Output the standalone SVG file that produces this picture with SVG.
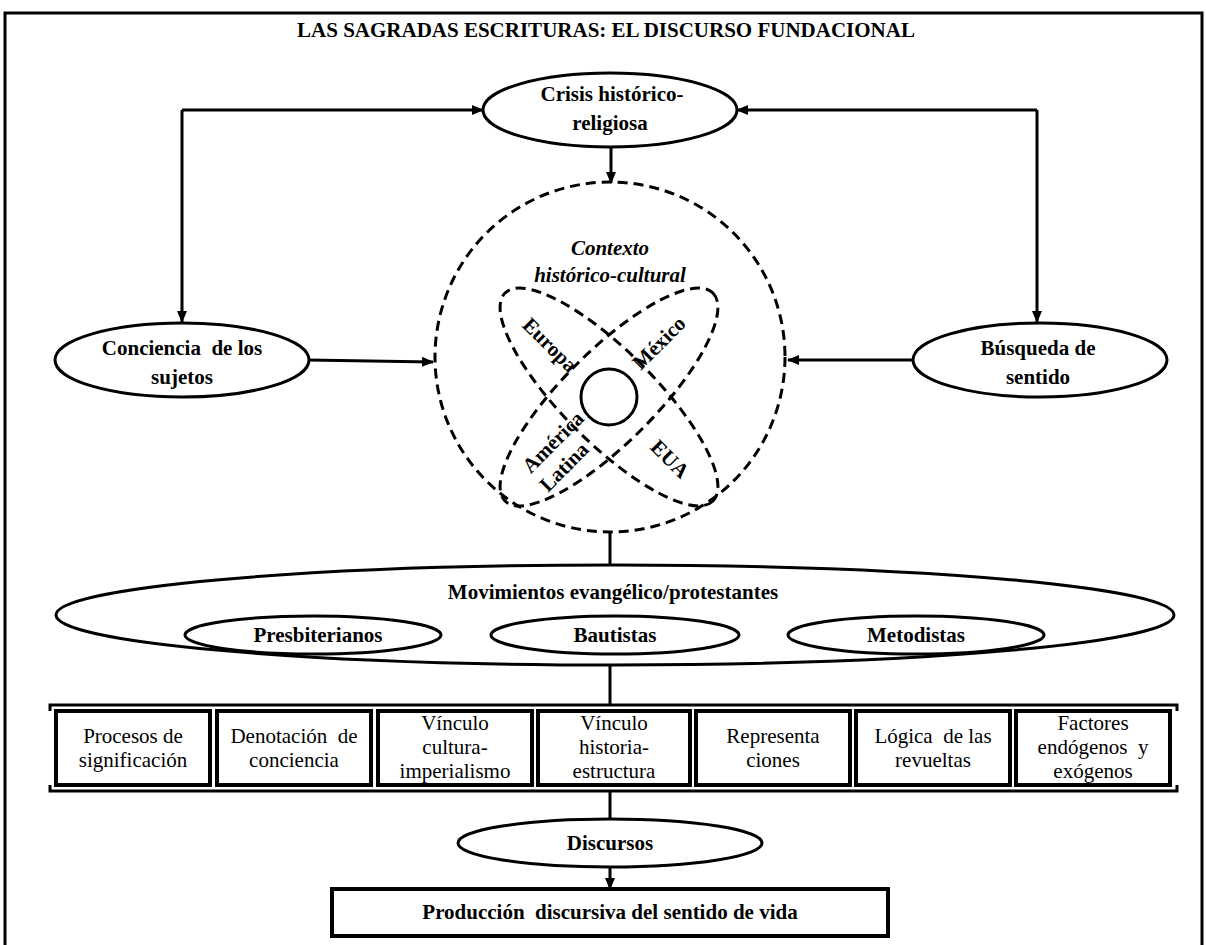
<svg xmlns="http://www.w3.org/2000/svg" width="1206" height="945" viewBox="0 0 1206 945" font-family="'Liberation Serif', 'Times New Roman', serif">
<defs>
<marker id="arr" markerUnits="userSpaceOnUse" markerWidth="12" markerHeight="10" refX="11" refY="5" orient="auto"><path d="M0,0 L12,5 L0,10 z" fill="#000"/></marker>
<style>
text{font-family:"Liberation Serif","Times New Roman",serif;fill:#000;text-anchor:middle}
.b{font-weight:bold;font-size:21px}
.r{font-size:21px}
.p{font-weight:bold;font-size:21px}
.ol{fill:#fff;stroke:#000;stroke-width:3}
.dash{fill:none;stroke:#000;stroke-width:3;stroke-dasharray:10 6}
.box{fill:#fff;stroke:#000;stroke-width:4}
.c{fill:none;stroke:#000;stroke-width:3}
</style>
</defs>
<rect width="1206" height="945" fill="#fff"/>
<rect x="5" y="13" width="1197" height="940" fill="none" stroke="#000" stroke-width="3"/>
<text x="606" y="37" class="b">LAS SAGRADAS ESCRITURAS: EL DISCURSO FUNDACIONAL</text>

<g id="connectors" class="c">
<path d="M182,110 H483" marker-end="url(#arr)"/>
<path d="M182,110 V322" marker-end="url(#arr)"/>
<path d="M1037,110 H737" marker-end="url(#arr)"/>
<path d="M1037,110 V322" marker-end="url(#arr)"/>
<path d="M611,147 V183" marker-end="url(#arr)"/>
<path d="M308,360 L433,362" marker-end="url(#arr)"/>
<path d="M913,360 L788,360" marker-end="url(#arr)"/>
<path d="M610,532 V565"/>
<path d="M610,665 V705"/>
<path d="M610,791 V819"/>
<path d="M610,867 V889" marker-end="url(#arr)"/>
<path d="M50,711 V705 H1177 V711"/>
<path d="M50,785 V791 H1177 V785"/>
</g>

<g id="crisis">
<ellipse cx="610" cy="110" rx="127" ry="37" class="ol"/>
<text x="612" y="101" class="b">Crisis histórico-</text>
<text x="610" y="130" class="b">religiosa</text>
</g>

<g id="conciencia">
<ellipse cx="182" cy="360" rx="127" ry="37" class="ol"/>
<text x="182" y="355" class="b" xml:space="preserve">Conciencia  de los</text>
<text x="182" y="384" class="b">sujetos</text>
</g>

<g id="busqueda">
<ellipse cx="1040" cy="360" rx="127" ry="37" class="ol"/>
<text x="1038" y="355" class="b">Búsqueda de</text>
<text x="1038" y="384" class="b">sentido</text>
</g>

<g id="contexto">
<circle cx="610" cy="357" r="175" class="dash"/>
<text x="610" y="255" class="b" font-style="italic">Contexto</text>
<text x="610" y="282" class="b" font-style="italic">histórico-cultural</text>
<ellipse cx="609" cy="397" rx="147" ry="46" class="dash" transform="rotate(45 609 397)"/>
<ellipse cx="609" cy="397" rx="147" ry="46" class="dash" transform="rotate(-45 609 397)"/>
<circle cx="609" cy="397" r="28" class="c"/>
<text class="p" transform="translate(550 345) rotate(45)" y="7">Europa</text>
<text class="p" transform="translate(659 343) rotate(-45)" y="7">México</text>
<text class="p" transform="translate(553 442) rotate(-45)" y="7">América</text>
<text class="p" transform="translate(564 467) rotate(-45)" y="7">Latina</text>
<text class="p" transform="translate(670 459) rotate(45)" y="7">EUA</text>
</g>

<g id="movimientos">
<ellipse cx="615" cy="615" rx="559" ry="50" class="ol"/>
<text x="613" y="599" class="b">Movimientos evangélico/protestantes</text>
</g>
<g id="presbiterianos">
<ellipse cx="313" cy="635" rx="128" ry="19" class="ol"/>
<text x="318" y="642" class="b">Presbiterianos</text>
</g>
<g id="bautistas">
<ellipse cx="615" cy="635" rx="124" ry="19" class="ol"/>
<text x="615" y="642" class="b">Bautistas</text>
</g>
<g id="metodistas">
<ellipse cx="916" cy="635" rx="128" ry="19" class="ol"/>
<text x="916" y="642" class="b">Metodistas</text>
</g>

<g id="b1"><rect x="56" y="711" width="154" height="74" class="box"/>
<text x="133" y="743" class="r">Procesos de</text><text x="133" y="767" class="r">significación</text></g>
<g id="b2"><rect x="217" y="711" width="154" height="74" class="box"/>
<text x="294" y="743" class="r" xml:space="preserve">Denotación  de</text><text x="294" y="767" class="r">conciencia</text></g>
<g id="b3"><rect x="378" y="711" width="154" height="74" class="box"/>
<text x="455" y="730" class="r">Vínculo</text><text x="455" y="754" class="r">cultura-</text><text x="455" y="778" class="r">imperialismo</text></g>
<g id="b4"><rect x="538" y="711" width="152" height="74" class="box"/>
<text x="614" y="730" class="r">Vínculo</text><text x="614" y="754" class="r">historia-</text><text x="614" y="778" class="r">estructura</text></g>
<g id="b5"><rect x="696" y="711" width="154" height="74" class="box"/>
<text x="773" y="743" class="r">Representa</text><text x="773" y="767" class="r">ciones</text></g>
<g id="b6"><rect x="856" y="711" width="154" height="74" class="box"/>
<text x="933" y="743" class="r" xml:space="preserve">Lógica  de las</text><text x="933" y="767" class="r">revueltas</text></g>
<g id="b7"><rect x="1016" y="711" width="154" height="74" class="box"/>
<text x="1093" y="730" class="r">Factores</text><text x="1093" y="754" class="r" xml:space="preserve">endógenos  y</text><text x="1093" y="778" class="r">exógenos</text></g>

<g id="discursos">
<ellipse cx="610" cy="843" rx="152" ry="24" class="ol"/>
<text x="610" y="850" class="b">Discursos</text>
</g>
<g id="produccion">
<rect x="332" y="889" width="556" height="47" class="box"/>
<text x="610" y="919" class="b" xml:space="preserve">Producción  discursiva del sentido de vida</text>
</g>
</svg>
